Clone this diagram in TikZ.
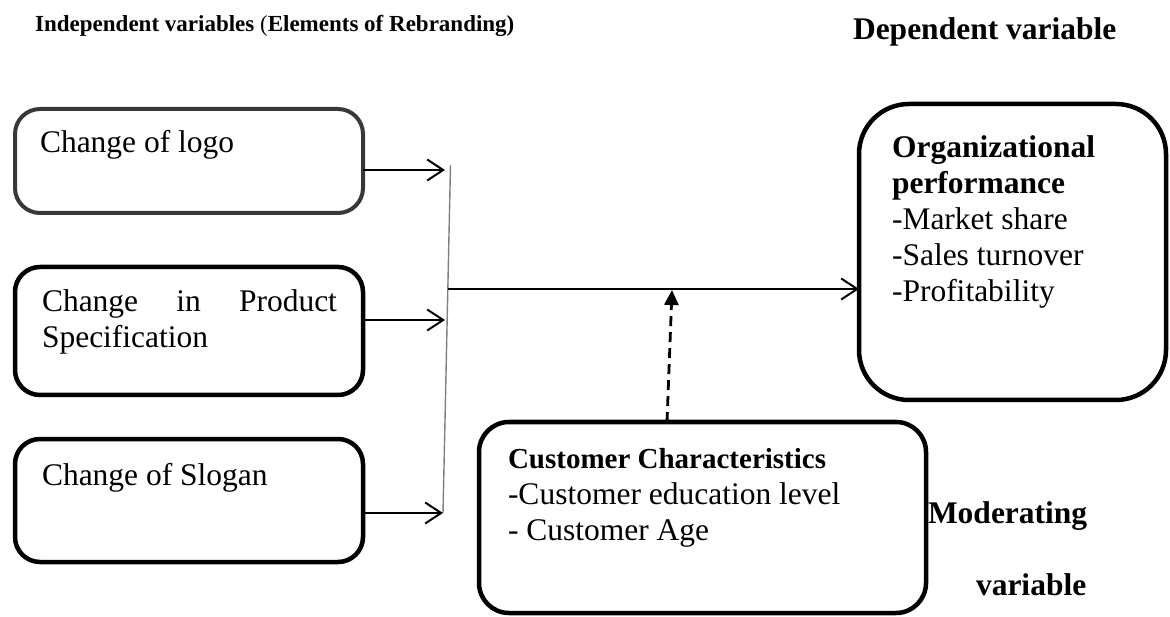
\documentclass[tikz,border=0pt]{standalone}
\usepackage{fontspec}
\setmainfont{Liberation Serif}
\usetikzlibrary{arrows.meta}
\tikzset{
  x=1pt, y=-1pt,
  varbox/.style={draw, line width=4.5pt, rounded corners=#1, minimum width=0pt, minimum height=0pt, inner sep=0pt, outer sep=0pt},
  boxtext/.style={anchor=base west, inner sep=0pt, outer sep=0pt, align=left, font=\fontsize{31.5}{36}\selectfont},
  heading/.style={anchor=base west, inner sep=0pt, outer sep=0pt, font=\fontsize{31.5}{36}\selectfont\bfseries},
  feed/.style={line width=2pt, -{Straight Barb[length=16pt, width=21pt, line width=2pt]}},
  joinline/.style={line width=1.4pt, draw=black!50},
  modarrow/.style={line width=2.8pt, dash pattern=on 10pt off 6pt, -{Triangle[length=15pt, width=14pt]}},
}
\begin{document}
\begin{tikzpicture}
\useasboundingbox (0,0) rectangle (1170,617);

% headings
\node[anchor=base west, inner sep=0pt, font=\fontsize{23}{27}\selectfont\bfseries] (indep) at (35,32)
  {Independent variables {\mdseries(}Elements of Rebranding)};
\node[heading] (dep) at (853,40) {Dependent variable};
\node[heading] (mod1) at (928,523) {Moderating};
\node[heading] (mod2) at (976,595) {variable};

% independent variable boxes
\node[varbox=25pt, draw=black!78, line width=4pt, minimum width=348pt, minimum height=104pt] (logo) at (189,161) {};
\node[varbox=25pt, minimum width=348pt, minimum height=128pt] (spec) at (189,331) {};
\node[varbox=25pt, minimum width=348pt, minimum height=123pt] (slogan) at (189,500.5) {};

% multi-line texts are placed by the baseline of their last line
\node[boxtext] (tlogo) at (40,153) {Change of logo};
\node[boxtext] (tspec) at (42,348) {\hbox to 295pt{Change\hfil in\hfil Product}\\Specification};
\node[boxtext] (tslogan) at (42,485) {Change of Slogan};

% dependent variable box
\node[varbox=50pt, minimum width=307pt, minimum height=296pt] (org) at (1012.5,252) {};
\node[boxtext] (torg) at (892,302) {\textbf{Organizational}\\\textbf{performance}\\-Market share\\-Sales turnover\\-Profitability};

% moderating variable box
\node[varbox=30pt, minimum width=447pt, minimum height=191pt] (cc) at (702.5,517.5) {};
\node[boxtext] (tcc) at (508,540) {{\fontsize{29}{36}\selectfont\bfseries Customer Characteristics}\\-Customer education level\\- Customer Age};

% connectors
\coordinate (j1) at (445,170);
\coordinate (j2) at (445,320);
\coordinate (vtop) at (450.5,165);
\coordinate (vbot) at (443,513);
\coordinate (hstart) at (448,289);
\coordinate (dbase) at (667,420);
\coordinate (dtip) at (672,290);

\draw[joinline] (vtop) -- (vbot);
\draw[feed] (logo.east |- j1) -- (j1);
\draw[feed] (spec.east |- j2) -- (j2);
\draw[feed] (slogan.east |- vbot) -- (vbot);
\draw[feed] (hstart) -- (org.west |- hstart);
\draw[modarrow] (cc.north -| dbase) -- (dtip);
\end{tikzpicture}
\end{document}
